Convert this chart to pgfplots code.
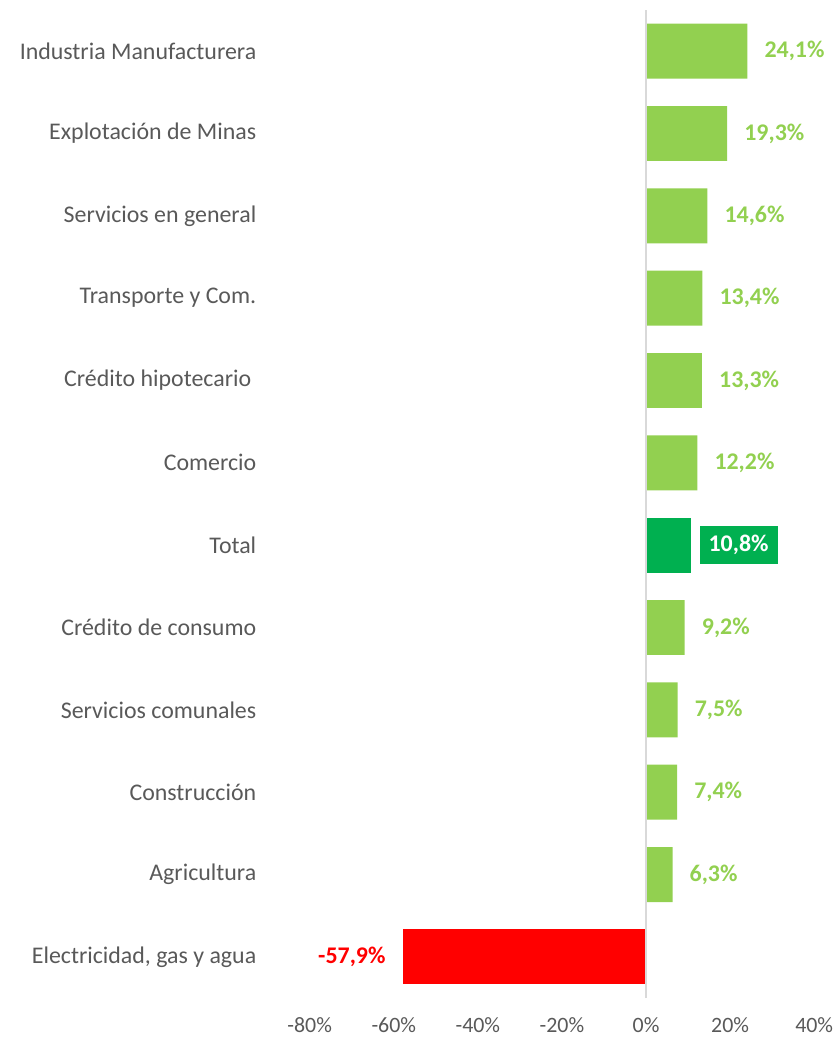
\documentclass[border=0pt]{standalone}
\usepackage{fontspec}
\setmainfont{Carlito}
\usepackage{pgfplots}
\pgfplotsset{compat=1.18}
\definecolor{lgreen}{HTML}{92D050}
\definecolor{dgreen}{HTML}{00B050}
\definecolor{txt}{HTML}{595959}
\definecolor{axl}{HTML}{D9D9D9}
\begin{document}
\begin{tikzpicture}
\begin{axis}[
  scale only axis, width=505bp, height=989bp,
  xmin=-80, xmax=40, ymin=-0.5, ymax=11.5,
  xbar, bar width=55bp, /pgf/bar shift=0pt,
  axis line style={draw=none},
  xtick={-80,-60,-40,-20,0,20,40},
  xticklabels={-80\%,-60\%,-40\%,-20\%,0\%,20\%,40\%},
  ytick={0,1,2,3,4,5,6,7,8,9,10,11},
  yticklabels={{Electricidad, gas y agua},Agricultura,Construcción,Servicios comunales,Crédito de consumo,Total,Comercio,{Crédito hipotecario\hspace*{5bp}},Transporte y Com.,Servicios en general,Explotación de Minas,Industria Manufacturera},
  major tick length=0pt,
  yticklabel style={font=\fontsize{24}{28}\selectfont, text=txt, xshift=-50bp},
  xticklabel style={font=\fontsize{22}{26}\selectfont, text=txt, yshift=-16bp},
  point meta=x,
  /pgf/number format/assume math mode=true,
  nodes near coords={\pgfmathprintnumber[fixed,fixed zerofill,precision=1,use comma,assume math mode=true]{\pgfplotspointmeta}\%},
  every node near coord/.append style={font=\bfseries\fontsize{24}{28}\selectfont, inner xsep=9bp},
  clip=false,
]
\addplot[fill=lgreen, draw=none,
  every node near coord/.append style={text=lgreen, anchor=west, xshift=8bp}]
  coordinates {(6.3,1) (7.4,2) (7.5,3) (9.2,4) (12.2,6) (13.3,7) (13.4,8) (14.6,9) (19.3,10) (24.1,11)};
\addplot[fill=dgreen, draw=none,
  every node near coord/.append style={text=white, fill=dgreen, anchor=west, xshift=8bp, minimum height=38bp}]
  coordinates {(10.8,5)};
\addplot[fill=red, draw=none,
  every node near coord/.append style={text=red, anchor=east, xshift=-8bp}]
  coordinates {(-57.9,0)};
\draw[axl, line width=1.5bp] (axis cs:0,-0.5) -- (axis cs:0,11.5);
\end{axis}
\pgfresetboundingbox
\path ([xshift=-310bp,yshift=10bp]current axis.north west) rectangle ([xshift=18bp,yshift=-40bp]current axis.south east);
\end{tikzpicture}
\end{document}
